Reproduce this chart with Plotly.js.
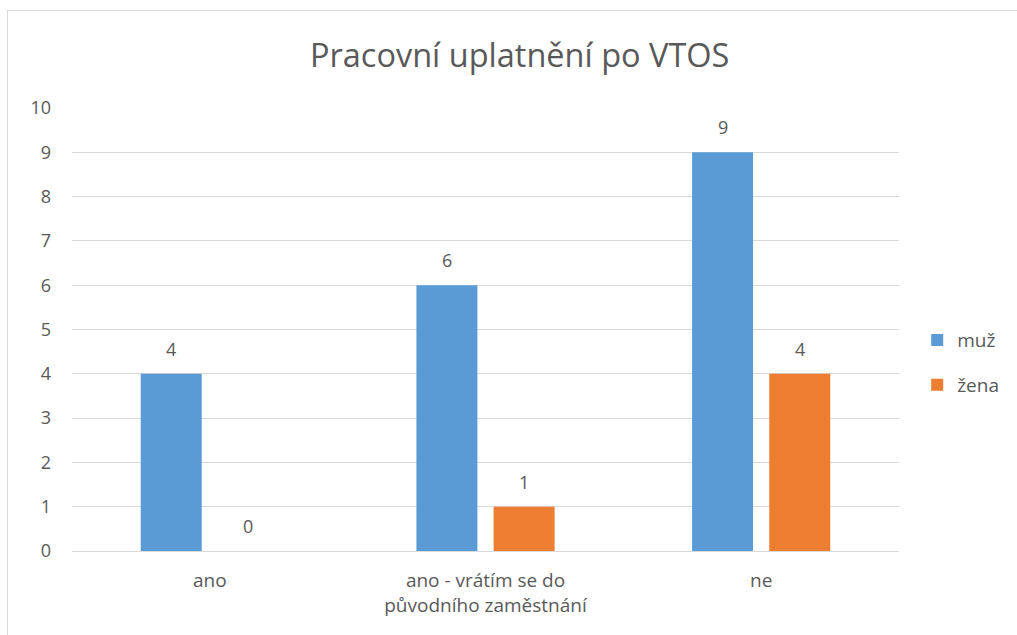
<!DOCTYPE html>
<html>
<head>
<meta charset="utf-8">
<script src="https://cdn.plot.ly/plotly-3.0.1.min.js"></script>
<style>
html,body{margin:0;padding:0;background:#fff;}
#chart{position:absolute;left:0;top:0;width:1017px;height:635px;}
#frame{position:absolute;left:7px;top:10px;width:1020px;height:640px;border:1px solid #d9d9d9;pointer-events:none;}
</style>
</head>
<body>
<div id="chart"></div>
<div id="frame"></div>
<script>
const categories = ["ano", "ano - vrátím se do<br>původního zaměstnání", "ne"];
const seriesNames = ["muž", "žena"];
const muz = [4, 6, 9];
const zena = [0, 1, 4];
const yTicks = [0,1,2,3,4,5,6,7,8,9,10];

const font = "'Open Sans', 'Noto Sans', sans-serif";
const gray = "#595959";
const colors = ["#5B9BD5", "#ED7D31"];
const bargap = 0.44, bargroupgap = 0.21;
const series = [muz, zena];

const traces = series.map((vals, j) => ({
  type:"bar", name:seriesNames[j], x:categories, y:vals, marker:{color:colors[j]},
  legendgroup:"g"+j, hoverinfo:"y"
}));

// data labels placed above the centre of each bar (derived from the bar group geometry)
const slot = (1 - bargap) / series.length;
const annotations = [];
series.forEach((vals, j) => {
  vals.forEach((v, i) => {
    annotations.push({
      xref:"x", yref:"y", x: i + (j - (series.length - 1) / 2) * slot, y: v,
      text: String(v), showarrow:false, yanchor:"middle", yshift:25,
      font:{family:font, size:18, color:gray}
    });
  });
});

const layout = {
  width:1017, height:635,
  margin:{l:72, r:118, t:108, b:84},
  paper_bgcolor:"rgba(0,0,0,0)", plot_bgcolor:"#fff",
  barmode:"group", bargap:bargap, bargroupgap:bargroupgap,
  title:{text:"Pracovní uplatnění po VTOS", x:0.511, xanchor:"center", y:0.912, yanchor:"middle",
         font:{family:font, size:32.5, color:gray}},
  xaxis:{type:"category", showgrid:false, showline:false, zeroline:false, ticks:"",
         ticklabelstandoff:16, tickfont:{family:font, size:19, color:gray}, automargin:false},
  yaxis:{range:[0,10], tickvals:yTicks, ticktext:yTicks.map(String), showgrid:true, gridcolor:"#d9d9d9",
         gridwidth:1, zeroline:true, zerolinecolor:"#d9d9d9", zerolinewidth:1, showline:false, ticks:"",
         ticklabelstandoff:20, tickfont:{family:font, size:18, color:gray}, automargin:false},
  legend:{x:1.022, xanchor:"left", y:0.425, yanchor:"middle", tracegroupgap:17,
          font:{family:font, size:19, color:gray}, itemwidth:30},
  annotations: annotations,
  showlegend:true
};

Plotly.newPlot("chart", traces, layout, {displayModeBar:false, staticPlot:true});
</script>
</body>
</html>
